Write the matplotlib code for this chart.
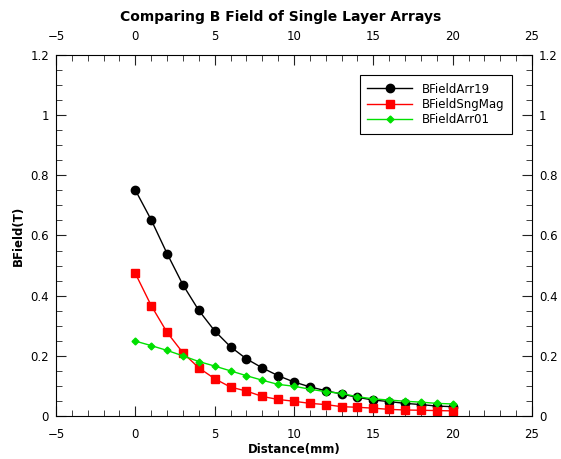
import numpy as np
import matplotlib.pyplot as plt
from matplotlib.ticker import MultipleLocator

# distance from the array surface (mm)
distance = np.arange(0, 21)

b_arr19 = [0.751, 0.652, 0.540, 0.436, 0.351, 0.283, 0.230, 0.190, 0.160, 0.134, 0.113,
           0.097, 0.084, 0.073, 0.062, 0.053, 0.048, 0.042, 0.038, 0.033, 0.031]
b_sngmag = [0.474, 0.367, 0.278, 0.210, 0.160, 0.124, 0.096, 0.083, 0.065, 0.055, 0.049,
            0.042, 0.038, 0.031, 0.029, 0.026, 0.022, 0.020, 0.019, 0.018, 0.017]
b_arr01 = [0.249, 0.234, 0.218, 0.200, 0.181, 0.166, 0.150, 0.134, 0.119, 0.105, 0.099,
           0.089, 0.081, 0.075, 0.064, 0.057, 0.053, 0.049, 0.046, 0.042, 0.040]

plt.rcParams['font.family'] = 'DejaVu Sans'
fig = plt.figure(figsize=(5.61, 4.59), dpi=100)
ax = fig.add_axes([56 / 561, 43 / 459, 476 / 561, 361 / 459])

ax.plot(distance, b_arr19, 'k-', marker='o', markersize=6, lw=1, label='BFieldArr19')
ax.plot(distance, b_sngmag, '-', color='#ff0000', marker='s', markersize=5.5, lw=1,
        label='BFieldSngMag')
ax.plot(distance, b_arr01, '-', color='#00e000', marker='D', markersize=3.5, lw=1,
        label='BFieldArr01')

ax.set_xlim(-5, 25)
ax.set_ylim(0, 1.2)
ax.xaxis.set_major_locator(MultipleLocator(5))
ax.xaxis.set_minor_locator(MultipleLocator(1))
ax.yaxis.set_major_locator(MultipleLocator(0.2))
ax.yaxis.set_minor_locator(MultipleLocator(0.05))
ax.yaxis.set_major_formatter(plt.FuncFormatter(lambda v, p: f'{v:g}'))
ax.tick_params(which='both', direction='in', top=True, right=True,
               labeltop=True, labelright=True, labelsize=8.5, color='#222222')
ax.tick_params(which='major', length=7)
ax.tick_params(which='minor', length=4)
ax.tick_params(axis='x', which='major', pad=9)
ax.tick_params(axis='y', which='major', pad=5)

ax.set_xlabel('Distance(mm)', fontsize=8.5, fontweight='bold', labelpad=1)
ax.set_ylabel('BField(T)', fontsize=8.5, fontweight='bold', labelpad=4)
fig.text(0.5, 1 - 17 / 459, 'Comparing B Field of Single Layer Arrays', ha='center',
         va='center', fontsize=10, fontweight='bold')

leg = ax.legend(loc='upper right', bbox_to_anchor=(0.958, 0.945), borderaxespad=0,
                fontsize=8.5, fancybox=False, edgecolor='black', framealpha=1,
                handlelength=3.8, labelspacing=0.2, borderpad=0.65)
leg.get_frame().set_linewidth(0.8)

plt.savefig('out.png', dpi=100)
